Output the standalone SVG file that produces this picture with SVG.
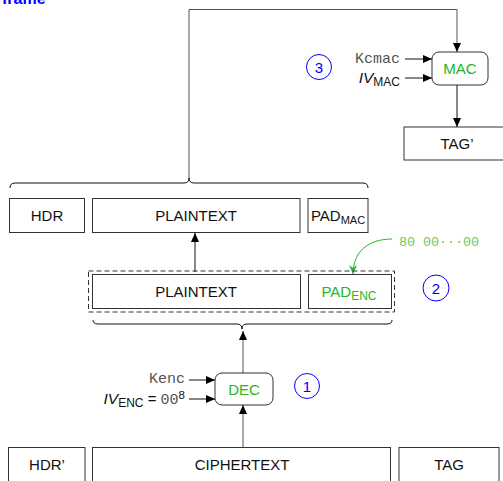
<svg xmlns="http://www.w3.org/2000/svg" width="503" height="481" viewBox="0 0 503 481">
<style>
.box{fill:#fff;stroke:#333;stroke-width:1}
.t{font-family:"Liberation Sans",Arial,sans-serif;font-size:15px;fill:#111;text-anchor:middle}
.g{fill:#22b822}
.mono{font-family:"Liberation Mono","Courier New",monospace;fill:#555}
.circ{fill:none;stroke:#0000ff;stroke-width:1}
.num{font-family:"Liberation Sans",Arial,sans-serif;font-size:15px;fill:#0000ff;text-anchor:middle}
.ln{fill:none;stroke:#111;stroke-width:1}
</style>
<defs>
<marker id="ah" markerWidth="10" markerHeight="8" refX="9" refY="4" orient="auto" markerUnits="userSpaceOnUse">
<path d="M0,0 L9,4 L0,8 Z" fill="#000"/>
</marker>
<marker id="gh" markerWidth="10" markerHeight="8" refX="9" refY="4" orient="auto" markerUnits="userSpaceOnUse">
<path d="M0,0 L9,4 L0,8 L3,4 Z" fill="#22b822"/>
</marker>
</defs>
<text x="2" y="4" font-family="Liberation Sans,Arial,sans-serif" font-size="16" font-weight="bold" fill="#0000ff">frame</text>

<g id="connectors">
<path class="ln" d="M10,188 Q10,183 15,183 L184,183 Q189,183 189,178 Q189,183 194,183 L363,183 Q368,183 368,188"/>
<path class="ln" d="M189,178 L189,9.5 L457,9.5 L457,52" marker-end="url(#ah)" style="stroke:#555"/>
<path class="ln" d="M457,85 L457,127" marker-end="url(#ah)"/>
<path class="ln" d="M405,59 L432,59" marker-end="url(#ah)"/>
<path class="ln" d="M405,78 L432,78" marker-end="url(#ah)"/>
<path class="ln" d="M195,272 L195,233" marker-end="url(#ah)"/>
<path d="M392,239 C368,239 353,252 353,274" fill="none" stroke="#22b822" stroke-width="1" marker-end="url(#gh)"/>
<path class="ln" d="M93,320 Q93,324 98,324 L237,324 Q242,324 242,329 Q242,324 247,324 L387,324 Q392,324 392,320"/>
<path class="ln" d="M243,373 L243,331" marker-end="url(#ah)" style="stroke:#555"/>
<path class="ln" d="M243,447 L243,405" marker-end="url(#ah)" style="stroke:#555"/>
<path class="ln" d="M189,380 L215,380" marker-end="url(#ah)"/>
<path class="ln" d="M189,399 L215,399" marker-end="url(#ah)"/>
</g>

<g id="mac">
<rect x="432" y="52" width="56" height="33" rx="7" class="box"/>
<text x="460" y="74" class="t g" font-size="16">MAC</text>
</g>
<g id="kcmac"><text x="400" y="63" class="mono" font-size="15" text-anchor="end">Kcmac</text></g>
<g id="ivmac"><text x="400" y="83" font-family="Liberation Sans,Arial,sans-serif" text-anchor="end" fill="#111"><tspan font-style="italic" font-size="15.5">IV</tspan><tspan font-size="12" dy="3">MAC</tspan></text></g>
<g id="c3"><circle cx="319" cy="67" r="12.5" class="circ"/><text x="319" y="72.5" class="num">3</text></g>
<g id="tagp">
<rect x="404" y="127" width="106" height="33" class="box"/>
<text x="457" y="149" class="t">TAG’</text>
</g>

<g id="hdr"><rect x="9.5" y="198.5" width="75" height="34" class="box"/><text x="47" y="221" class="t">HDR</text></g>
<g id="pt1"><rect x="92.5" y="198.5" width="207.5" height="34" class="box"/><text x="196" y="221" class="t">PLAINTEXT</text></g>
<g id="padmac"><rect x="308" y="198.5" width="60" height="34" class="box"/><text x="338" y="221" class="t"><tspan>PAD</tspan><tspan font-size="11" dy="3">MAC</tspan></text></g>

<g id="enc">
<rect x="88.5" y="271" width="306" height="41" fill="none" stroke="#333" stroke-dasharray="5,3"/>
<rect x="92.5" y="274.5" width="208" height="34" class="box"/>
<text x="196" y="297" class="t">PLAINTEXT</text>
<rect x="308.5" y="274.5" width="83" height="34" class="box"/>
<text x="349" y="297" class="t g" font-size="16"><tspan>PAD</tspan><tspan font-size="12" dy="3">ENC</tspan></text>
</g>
<g id="pad"><text x="399" y="246" class="mono" font-size="13.5" style="fill:#66cc66" textLength="80">80 00···00</text></g>
<g id="c2"><circle cx="436" cy="288" r="13" class="circ"/><text x="436" y="293.5" class="num">2</text></g>

<g id="dec">
<rect x="215" y="373" width="58" height="32" rx="7" class="box"/>
<text x="244" y="395" class="t g" font-size="16">DEC</text>
</g>
<g id="kenc"><text x="185" y="383" class="mono" font-size="15" text-anchor="end">Kenc</text></g>
<g id="ivenc"><text x="185" y="404" font-family="Liberation Sans,Arial,sans-serif" text-anchor="end" fill="#111"><tspan font-style="italic" font-size="15.5">IV</tspan><tspan font-size="12" dy="3">ENC</tspan><tspan font-size="15" dy="-3"> = </tspan><tspan font-family="Liberation Mono,monospace" font-size="15" fill="#555">00</tspan><tspan font-size="11.5" dy="-5">8</tspan></text></g>
<g id="c1"><circle cx="307" cy="386" r="12.5" class="circ"/><text x="307" y="391.5" class="num">1</text></g>

<g id="hdrp"><rect x="8.5" y="447.5" width="76.5" height="40" class="box"/><text x="47" y="470" class="t">HDR’</text></g>
<g id="ct"><rect x="92.5" y="447.5" width="298" height="40" class="box"/><text x="242" y="470" class="t">CIPHERTEXT</text></g>
<g id="tag"><rect x="399" y="447.5" width="100" height="40" class="box"/><text x="449" y="470" class="t">TAG</text></g>
</svg>
